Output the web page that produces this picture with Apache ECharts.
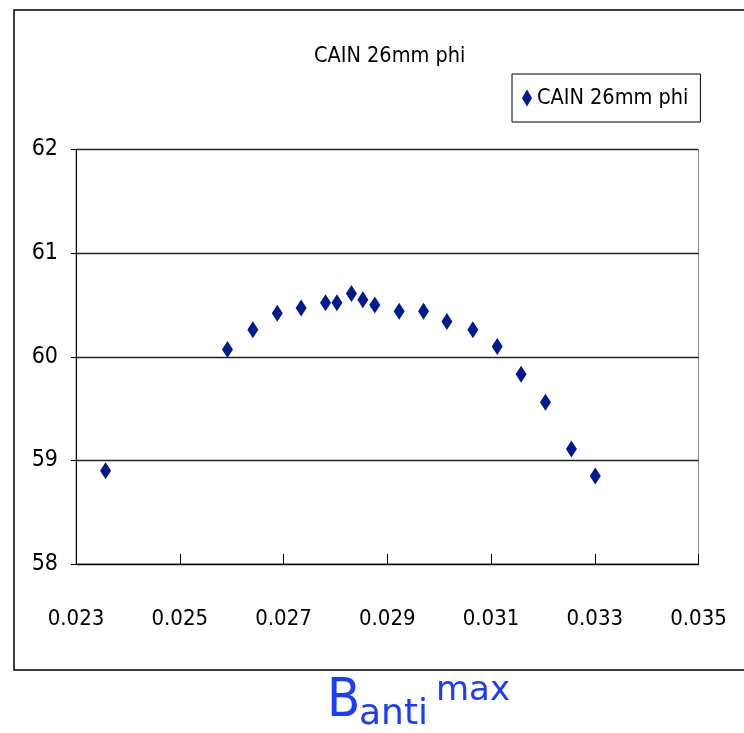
<!DOCTYPE html>
<html>
<head>
<meta charset="utf-8">
<script src="https://cdn.jsdelivr.net/npm/echarts@6/dist/echarts.min.js"></script>
<style>
    html, body { margin: 0; padding: 0; background: #fff; }
</style>
</head>
<body>
<div style="width:744px;height:733px;" id="cain-phi"></div>
<script>
// B_anti^max values and the matching result
var bAnti = [0.02357, 0.02592, 0.02641, 0.02688, 0.02734, 0.02781, 0.02803, 0.02831, 0.02853, 0.02876,
    0.02923, 0.02970, 0.03015, 0.03065, 0.03112, 0.03158, 0.03205, 0.03255, 0.03301];
var phiValues = [58.90, 60.07, 60.26, 60.42, 60.47, 60.52, 60.52, 60.61, 60.55, 60.50,
    60.44, 60.44, 60.34, 60.26, 60.10, 59.83, 59.56, 59.11, 58.85];
var seriesName = 'CAIN 26mm phi';

var points = bAnti.map(function (x, i) { return [x, phiValues[i]]; });
var labelFont = '"DejaVu Sans Condensed", "Liberation Sans", sans-serif';

var chart = echarts.init(document.getElementById('cain-phi'));
var option = {
    animation: false,
    title: {
        text: seriesName,
        left: 309,
        top: 40,
        textStyle: {
            fontFamily: labelFont,
            fontWeight: 'normal',
            fontSize: 21.5,
            color: '#000'
        }
    },
    legend: {
        left: 512,
        top: 74,
        padding: [13, 12, 13, 10],
        borderColor: '#000',
        borderWidth: 1,
        itemWidth: 10,
        itemHeight: 17,
        itemGap: 8,
        textStyle: {
            fontFamily: labelFont,
            fontSize: 21.5,
            color: '#000'
        },
        data: [seriesName]
    },
    grid: {
        left: 76,
        right: 45.5,
        top: 149.5,
        bottom: 169,
        show: true,
        borderColor: '#888888',
        borderWidth: 1
    },
    xAxis: {
        type: 'value',
        min: 0.023,
        max: 0.035,
        interval: 0.002,
        axisLine: { lineStyle: { color: '#000', width: 1 } },
        axisTick: { inside: true, length: 10, lineStyle: { color: '#000' } },
        axisLabel: {
            margin: 44,
            fontFamily: labelFont,
            fontSize: 22,
            color: '#000',
            formatter: function (v) { return v.toFixed(3); }
        },
        splitLine: { show: false }
    },
    yAxis: {
        type: 'value',
        min: 58,
        max: 62,
        interval: 1,
        axisLine: { show: true, lineStyle: { color: '#000', width: 1 } },
        axisTick: { show: true, length: 5, lineStyle: { color: '#000' } },
        axisLabel: {
            margin: 18,
            fontFamily: labelFont,
            fontSize: 23,
            color: '#000'
        },
        splitLine: { lineStyle: { color: '#222222', width: 1.3 } }
    },
    series: [
        {
            name: seriesName,
            type: 'scatter',
            symbol: 'diamond',
            symbolSize: [11, 17],
            itemStyle: { color: '#001a8f', opacity: 1 },
            data: points
        }
    ],
    graphic: [
        {
            type: 'rect',
            shape: { x: 14, y: 10, width: 740, height: 660 },
            style: { fill: 'none', stroke: '#000', lineWidth: 1.5 },
            silent: true
        },
        {
            type: 'text',
            x: 327, y: 702,
            style: { text: 'B', fontFamily: 'DejaVu Sans Condensed', fontSize: 54, fill: '#1a3cff', verticalAlign: 'middle' }
        },
        {
            type: 'text',
            x: 359, y: 715,
            style: { text: 'anti', fontFamily: 'DejaVu Sans', fontSize: 36, fill: '#1a3cff', verticalAlign: 'middle' }
        },
        {
            type: 'text',
            x: 436, y: 691,
            style: { text: 'max', fontFamily: 'DejaVu Sans', fontSize: 34, fill: '#1a3cff', verticalAlign: 'middle' }
        }
    ]
};
chart.setOption(option);
</script>
</body>
</html>
